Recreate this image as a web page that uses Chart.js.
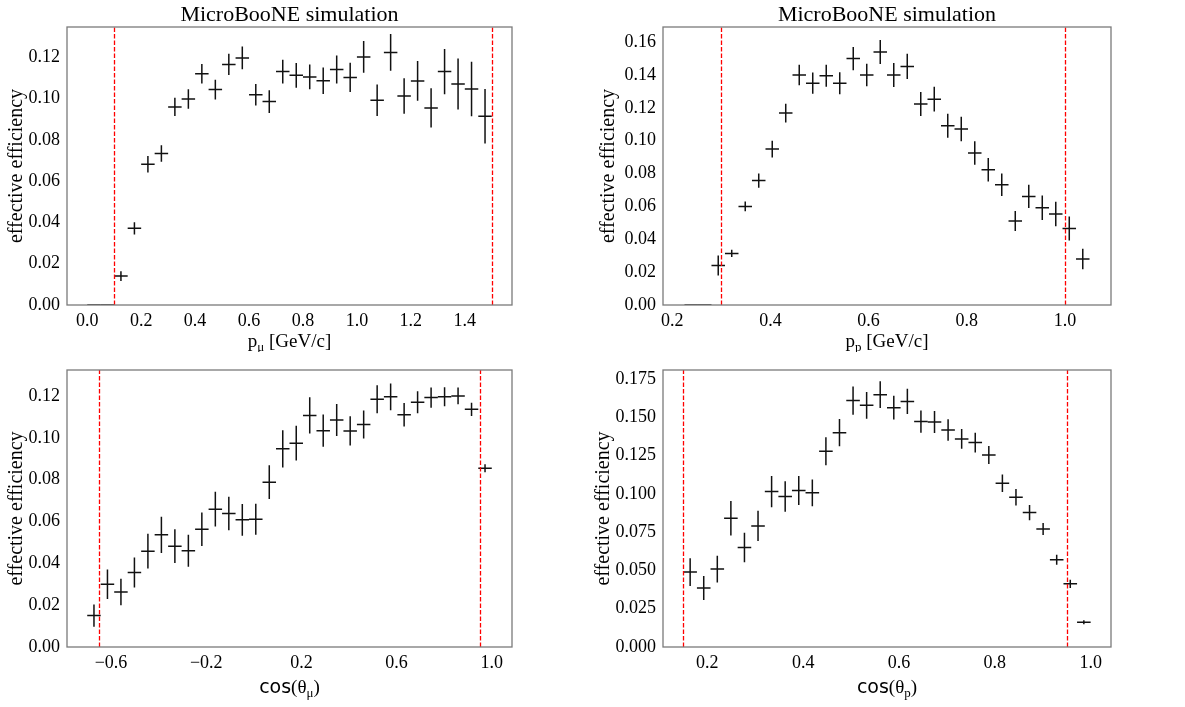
<!DOCTYPE html>
<html>
<head>
<meta charset="utf-8">
<script src="https://cdn.jsdelivr.net/npm/chart.js@4.4.0/dist/chart.umd.min.js"></script>
<style>
  body { margin: 0; background: #fff; }
  #wrap { position: relative; width: 1185px; height: 707px; }
  canvas { position: absolute; }
</style>
</head>
<body>
<div id="wrap">
  <canvas id="c1" width="592" height="352" style="left:0;top:0"></canvas>
  <canvas id="c2" width="593" height="352" style="left:592px;top:0"></canvas>
  <canvas id="c3" width="592" height="355" style="left:0;top:352px"></canvas>
  <canvas id="c4" width="593" height="355" style="left:592px;top:352px"></canvas>
</div>
<script>
"use strict";

// muon momentum [GeV/c]
const pMuX = [0.025, 0.075, 0.125, 0.175, 0.225, 0.275, 0.325, 0.375, 0.425, 0.475,
  0.525, 0.575, 0.625, 0.675, 0.725, 0.775, 0.825, 0.875, 0.925, 0.975,
  1.025, 1.075, 1.125, 1.175, 1.225, 1.275, 1.325, 1.375, 1.425, 1.475];
const pMuEff = [0, 0, 0.0140, 0.0371, 0.0681, 0.0734, 0.0959, 0.0997, 0.1120, 0.1043,
  0.1165, 0.1196, 0.1018, 0.0985, 0.1130, 0.1112, 0.1104, 0.1086, 0.1140, 0.1102,
  0.1201, 0.0991, 0.1223, 0.1012, 0.1085, 0.0954, 0.1130, 0.1070, 0.1046, 0.0914];
const pMuErr = [0, 0, 0.0024, 0.0030, 0.0040, 0.0040, 0.0044, 0.0047, 0.0047, 0.0048,
  0.0052, 0.0055, 0.0052, 0.0055, 0.0058, 0.0060, 0.0060, 0.0064, 0.0068, 0.0071,
  0.0077, 0.0076, 0.0089, 0.0086, 0.0096, 0.0095, 0.0110, 0.0123, 0.0132, 0.0132];
const pMuHalfBin = 0.025;
const pMuCuts = [0.1, 1.5];
const pMuXTicks = [0.0, 0.2, 0.4, 0.6, 0.8, 1.0, 1.2, 1.4];
const pMuYTicks = [0, 0.02, 0.04, 0.06, 0.08, 0.10, 0.12];

// proton momentum [GeV/c]
const pPX = [0.23875, 0.26625, 0.29375, 0.32125, 0.34875, 0.37625, 0.40375, 0.43125, 0.45875, 0.48625,
  0.51375, 0.54125, 0.56875, 0.59625, 0.62375, 0.65125, 0.67875, 0.70625, 0.73375, 0.76125,
  0.78875, 0.81625, 0.84375, 0.87125, 0.89875, 0.92625, 0.95375, 0.98125, 1.00875, 1.03625];
const pPEff = [0, 0, 0.0241, 0.0314, 0.0600, 0.0757, 0.0949, 0.1168, 0.1400, 0.1350,
  0.1395, 0.1350, 0.1500, 0.1400, 0.1540, 0.1400, 0.1452, 0.1223, 0.1253, 0.1091,
  0.1071, 0.0925, 0.0823, 0.0732, 0.0511, 0.0661, 0.0592, 0.0554, 0.0466, 0.0280];
const pPErr = [0, 0, 0.0061, 0.0022, 0.0030, 0.0043, 0.0051, 0.0057, 0.0063, 0.0065,
  0.0067, 0.0067, 0.0071, 0.0069, 0.0073, 0.0073, 0.0077, 0.0073, 0.0075, 0.0073,
  0.0075, 0.0071, 0.0071, 0.0069, 0.0061, 0.0071, 0.0075, 0.0075, 0.0073, 0.0063];
const pPHalfBin = 0.01375;
const pPCuts = [0.3, 1.0];
const pPXTicks = [0.2, 0.4, 0.6, 0.8, 1.0];
const pPYTicks = [0, 0.02, 0.04, 0.06, 0.08, 0.10, 0.12, 0.14, 0.16];

// cos(theta_mu)
const cMuX = [-0.67167, -0.615, -0.55833, -0.50167, -0.445, -0.38833, -0.33167, -0.275, -0.21833, -0.16167,
  -0.105, -0.04833, 0.00833, 0.065, 0.12167, 0.17833, 0.235, 0.29167, 0.34833, 0.405,
  0.46167, 0.51833, 0.575, 0.63167, 0.68833, 0.745, 0.80167, 0.85833, 0.915, 0.97167];
const cMuEff = [0.0150, 0.0300, 0.0263, 0.0356, 0.0458, 0.0536, 0.0482, 0.0460, 0.0563, 0.0659,
  0.0638, 0.0608, 0.0611, 0.0788, 0.0947, 0.0974, 0.1107, 0.1034, 0.1085, 0.1033,
  0.1064, 0.1184, 0.1196, 0.1110, 0.1170, 0.1192, 0.1196, 0.1200, 0.1136, 0.0854];
const cMuErr = [0.0053, 0.0070, 0.0063, 0.0072, 0.0083, 0.0087, 0.0081, 0.0076, 0.0080, 0.0083,
  0.0080, 0.0076, 0.0074, 0.0081, 0.0089, 0.0083, 0.0087, 0.0077, 0.0077, 0.0070,
  0.0067, 0.0067, 0.0064, 0.0056, 0.0053, 0.0048, 0.0045, 0.0040, 0.0032, 0.0019];
const cMuHalfBin = 0.02833;
const cMuCuts = [-0.65, 0.95];
const cMuXTicks = [-0.6, -0.2, 0.2, 0.6, 1.0];
const cMuYTicks = [0, 0.02, 0.04, 0.06, 0.08, 0.10, 0.12];

// cos(theta_p)
const cPX = [0.16417, 0.1925, 0.22083, 0.24917, 0.2775, 0.30583, 0.33417, 0.3625, 0.39083, 0.41917,
  0.4475, 0.47583, 0.50417, 0.5325, 0.56083, 0.58917, 0.6175, 0.64583, 0.67417, 0.7025,
  0.73083, 0.75917, 0.7875, 0.81583, 0.84417, 0.8725, 0.90083, 0.92917, 0.9575, 0.98583];
const cPEff = [0.0489, 0.0385, 0.0509, 0.0841, 0.0650, 0.0791, 0.1015, 0.0983, 0.1022, 0.1007,
  0.1278, 0.1400, 0.1609, 0.1578, 0.1648, 0.1563, 0.1604, 0.1472, 0.1470, 0.1417,
  0.1359, 0.1335, 0.1254, 0.1070, 0.0978, 0.0878, 0.0770, 0.0570, 0.0413, 0.0161];
const cPErr = [0.0091, 0.0078, 0.0087, 0.0113, 0.0096, 0.0098, 0.0102, 0.0100, 0.0095, 0.0087,
  0.0091, 0.0089, 0.0093, 0.0087, 0.0087, 0.0078, 0.0082, 0.0072, 0.0072, 0.0070,
  0.0065, 0.0065, 0.0059, 0.0057, 0.0054, 0.0050, 0.0039, 0.0033, 0.0027, 0.0013];
const cPHalfBin = 0.01417;
const cPCuts = [0.15, 0.95];
const cPXTicks = [0.2, 0.4, 0.6, 0.8, 1.0];
const cPYTicks = [0, 0.025, 0.05, 0.075, 0.10, 0.125, 0.15, 0.175];

const SERIF = "'Liberation Serif', 'Times New Roman', serif";
const SANS = "'DejaVu Sans', sans-serif";

// error bars, cut lines, box, x label
const panelPlugin = {
  id: 'panel',
  beforeDatasetsDraw(chart) {
    const o = chart.options.plugins.panel;
    const ctx = chart.ctx, a = chart.chartArea;
    const xs = chart.scales.x, ys = chart.scales.y;
    ctx.save();
    ctx.beginPath();
    ctx.rect(a.left, a.top, a.right - a.left, a.bottom - a.top);
    ctx.clip();
    // error bars
    ctx.strokeStyle = '#111';
    ctx.lineWidth = 1.5;
    const d = chart.data.datasets[0].data;
    d.forEach((p, i) => {
      const px = xs.getPixelForValue(p.x), py = ys.getPixelForValue(p.y);
      ctx.beginPath();
      ctx.moveTo(xs.getPixelForValue(p.x - o.halfBin), py);
      ctx.lineTo(xs.getPixelForValue(p.x + o.halfBin), py);
      if (o.err[i] > 0) {
        ctx.moveTo(px, ys.getPixelForValue(p.y - o.err[i]));
        ctx.lineTo(px, ys.getPixelForValue(p.y + o.err[i]));
      }
      ctx.stroke();
    });
    // cut lines
    ctx.strokeStyle = '#ff0000';
    ctx.lineWidth = 1.3;
    ctx.setLineDash([4.5, 2]);
    o.cuts.forEach(c => {
      const cx = Math.round(xs.getPixelForValue(c)) + 0.5;
      ctx.beginPath();
      ctx.moveTo(cx, a.bottom);
      ctx.lineTo(cx, a.top);
      ctx.stroke();
    });
    ctx.restore();
  },
  afterDraw(chart) {
    const o = chart.options.plugins.panel;
    const ctx = chart.ctx, a = chart.chartArea;
    ctx.save();
    ctx.strokeStyle = '#7a7a7a';
    ctx.lineWidth = 1.3;
    ctx.strokeRect(a.left, a.top, a.right - a.left, a.bottom - a.top);
    // x axis label with subscript
    let w = 0;
    o.xLabel.forEach(p => { ctx.font = p.font; p.w = ctx.measureText(p.t).width; w += p.w; });
    let x = (a.left + a.right) / 2 - w / 2;
    ctx.fillStyle = '#000';
    ctx.textBaseline = 'alphabetic';
    o.xLabel.forEach(p => {
      ctx.font = p.font;
      ctx.fillText(p.t, x, a.bottom + o.xLabelY + (p.dy || 0));
      x += p.w;
    });
    ctx.restore();
  }
};

function labelParts(main, sub, rest, isCos) {
  const big = '19px ' + SERIF, small = '13px ' + SERIF;
  if (isCos) {
    return [{ t: 'cos', font: '19px ' + SANS }, { t: '(θ', font: big },
      { t: sub, font: small, dy: 4 }, { t: ')', font: big }];
  }
  return [{ t: main, font: big }, { t: sub, font: small, dy: 4 }, { t: rest, font: big }];
}

function makePanel(id, p) {
  const points = p.x.map((v, i) => ({ x: v, y: p.y[i] }));
  return new Chart(document.getElementById(id), {
    type: 'scatter',
    data: { datasets: [{ data: points, pointRadius: 0, showLine: false }] },
    plugins: [panelPlugin],
    options: {
      responsive: false,
      animation: false,
      devicePixelRatio: 1,
      layout: { padding: { left: 0, right: p.rightPad, top: p.topPad, bottom: 0 } },
      plugins: {
        legend: { display: false },
        tooltip: { enabled: false },
        title: {
          display: p.title,
          text: 'MicroBooNE simulation',
          fullSize: false,
          color: '#000',
          font: { family: SERIF, size: 22, weight: 'normal', lineHeight: 1 },
          padding: { top: 4, bottom: 1 }
        },
        panel: { err: p.err, halfBin: p.halfBin, cuts: p.cuts, xLabel: p.xLabel, xLabelY: p.xLabelY }
      },
      scales: {
        x: {
          type: 'linear',
          min: p.xmin, max: p.xmax,
          grid: { display: false, drawTicks: false },
          border: { display: false },
          afterBuildTicks: s => { s.ticks = p.xTicks.map(v => ({ value: v })); },
          afterFit: s => { s.height = p.xh; },
          ticks: {
            autoSkip: false, maxRotation: 0, padding: 5, color: '#000',
            font: { family: SERIF, size: 18 },
            callback: v => v.toFixed(1).replace('-', '\u2212')
          }
        },
        y: {
          type: 'linear',
          min: 0, max: p.ymax,
          grid: { display: false, drawTicks: false },
          border: { display: false },
          afterBuildTicks: s => { s.ticks = p.yTicks.map(v => ({ value: v })); },
          afterFit: s => { s.width = p.yw; },
          title: {
            display: true, text: 'effective efficiency', color: '#000',
            font: { family: SERIF, size: 20 },
            padding: { top: p.yTitlePad, bottom: 0 }
          },
          ticks: {
            padding: 7, color: '#000',
            font: { family: SERIF, size: 18 },
            callback: v => v.toFixed(p.dec)
          }
        }
      }
    }
  });
}

makePanel('c1', {
  x: pMuX, y: pMuEff, err: pMuErr, halfBin: pMuHalfBin, cuts: pMuCuts,
  xTicks: pMuXTicks, yTicks: pMuYTicks, xmin: -0.075, xmax: 1.575, ymax: 0.1346, dec: 2,
  title: true, topPad: 0, rightPad: 80, yw: 67, xh: 47, yTitlePad: 5, xLabelY: 42,
  xLabel: labelParts('p', 'μ', ' [GeV/c]', false)
});
makePanel('c2', {
  x: pPX, y: pPEff, err: pPErr, halfBin: pPHalfBin, cuts: pPCuts,
  xTicks: pPXTicks, yTicks: pPYTicks, xmin: 0.18125, xmax: 1.09375, ymax: 0.1692, dec: 2,
  title: true, topPad: 0, rightPad: 74, yw: 71, xh: 47, yTitlePad: 5, xLabelY: 42,
  xLabel: labelParts('p', 'p', ' [GeV/c]', false)
});
makePanel('c3', {
  x: cMuX, y: cMuEff, err: cMuErr, halfBin: cMuHalfBin, cuts: cMuCuts,
  xTicks: cMuXTicks, yTicks: cMuYTicks, xmin: -0.785, xmax: 1.085, ymax: 0.1324, dec: 2,
  title: false, topPad: 18, rightPad: 80, yw: 67, xh: 60, yTitlePad: 5, xLabelY: 46,
  xLabel: labelParts('', 'μ', '', true)
});
makePanel('c4', {
  x: cPX, y: cPEff, err: cPErr, halfBin: cPHalfBin, cuts: cPCuts,
  xTicks: cPXTicks, yTicks: cPYTicks, xmin: 0.1075, xmax: 1.0425, ymax: 0.1809, dec: 3,
  title: false, topPad: 18, rightPad: 74, yw: 71, xh: 60, yTitlePad: 0, xLabelY: 46,
  xLabel: labelParts('', 'p', '', true)
});
</script>
</body>
</html>
